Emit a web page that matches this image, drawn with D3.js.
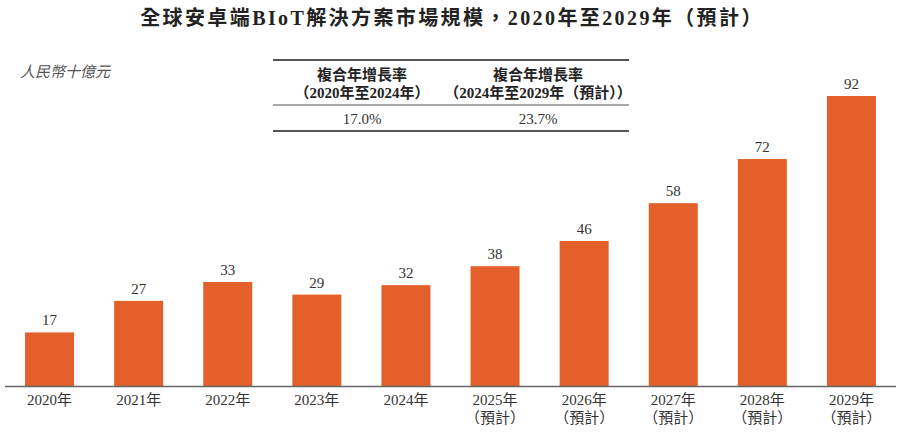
<!DOCTYPE html>
<html><head><meta charset="utf-8">
<script src="https://cdn.jsdelivr.net/npm/d3@7"></script>
<style>
body{margin:0;background:#fff;}
text{font-family:"Liberation Serif","Noto Sans CJK TC","Noto Sans CJK SC",serif;fill:#333;}
</style></head>
<body><svg id="c" width="900" height="433"></svg>
<script>
const years = ["2020年","2021年","2022年","2023年","2024年","2025年","2026年","2027年","2028年","2029年"];
const forecast = [false,false,false,false,false,true,true,true,true,true];
const values = [17,27,33,29,32,38,46,58,72,92];
const cagrHeaders = [["複合年增長率","（2020年至2024年）"],["複合年增長率","（2024年至2029年（預計））"]];
const cagrValues = ["17.0%","23.7%"];

const svg = d3.select("#c");
const baseY = 386;
const x = d3.scaleBand().domain(years).range([5,896]).paddingInner(0.45).paddingOuter(0.225);
const y = d3.scaleLinear().domain([0,92]).range([baseY, 96]);

svg.append("text").attr("x",452).attr("y",25).attr("text-anchor","middle")
  .style("font-size","20px").style("font-weight","bold").style("fill","#222").style("letter-spacing","2.4px")
  .text("全球安卓端BIoT解決方案市場規模，2020年至2029年（預計）");

svg.append("text").attr("x",20).attr("y",77).style("font-size","15px").style("font-style","italic").style("fill","#555")
  .text("人民幣十億元");

svg.selectAll("rect.bar").data(values).join("rect").attr("class","bar")
  .attr("x",(d,i)=>x(years[i])).attr("width",x.bandwidth())
  .attr("y",d=>y(d)).attr("height",d=>baseY-y(d)).attr("fill","#E3602A");

svg.selectAll("text.val").data(values).join("text").attr("class","val")
  .attr("x",(d,i)=>x(years[i])+x.bandwidth()/2).attr("y",d=>y(d)-7)
  .attr("text-anchor","middle").style("font-size","15px").text(d=>d);

svg.append("line").attr("x1",5).attr("x2",896).attr("y1",baseY+0.5).attr("y2",baseY+0.5)
  .attr("stroke","#666").attr("stroke-width",1.3);

const xl = svg.selectAll("g.xl").data(years).join("g").attr("class","xl")
  .attr("transform",(d)=>`translate(${x(d)+x.bandwidth()/2},0)`);
xl.append("text").attr("y",405).attr("text-anchor","middle").style("font-size","15px").text(d=>d);
xl.filter((d,i)=>forecast[i]).append("text").attr("y",423).attr("text-anchor","middle").style("font-size","15px").text("（預計）");

// CAGR table
const tx0 = 273, tx1 = 629;
const colX = [362, 538];
const rule = (yy,w)=>svg.append("line").attr("x1",tx0).attr("x2",tx1).attr("y1",yy).attr("y2",yy).attr("stroke","#555").attr("stroke-width",w);
rule(60,1.8); rule(105,1.2); rule(131,1.8);
cagrHeaders.forEach((h,i)=>{
  svg.append("text").attr("x",colX[i]).attr("y",80).attr("text-anchor","middle").style("font-size","15px").style("font-weight","bold").style("fill","#222").text(h[0]);
  svg.append("text").attr("x",colX[i]).attr("y",98).attr("text-anchor","middle").style("font-size","15px").style("font-weight","bold").style("fill","#222").text(h[1]);
  svg.append("text").attr("x",colX[i]).attr("y",124).attr("text-anchor","middle").style("font-size","15px").text(cagrValues[i]);
});
</script></body></html>
